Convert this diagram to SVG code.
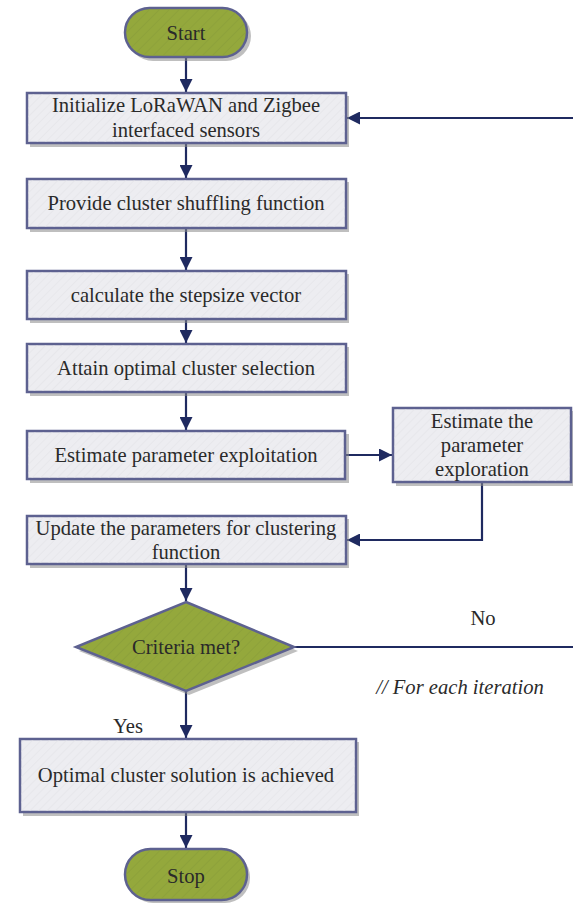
<svg xmlns="http://www.w3.org/2000/svg" width="573" height="903" viewBox="0 0 573 903">
<defs>
<style>
.box{fill:#ededf1;stroke:#5d6190;stroke-width:2.5}
.term{fill:#94a83c;stroke:#5d6190;stroke-width:2.5}
.hb{fill:url(#hatchB);stroke:none}
.hg{fill:url(#hatchG);stroke:none}
.sh{fill:#8a8a8a;opacity:0.55}
.t{font-family:'Liberation Serif','Times New Roman',serif;font-size:20.6px;fill:#2a2a2a;text-anchor:middle}
.c{fill:none;stroke:#1f2a60;stroke-width:2.2}
</style>
<pattern id="hatchB" width="6" height="6" patternUnits="userSpaceOnUse" patternTransform="rotate(45)">
<line x1="0" y1="0" x2="0" y2="6" stroke="#e2e2e6" stroke-width="1"/>
</pattern>
<pattern id="hatchG" width="7" height="7" patternUnits="userSpaceOnUse" patternTransform="rotate(45)">
<line x1="0" y1="0" x2="0" y2="7" stroke="#8a9d3a" stroke-width="1.3"/>
</pattern>
<marker id="a" viewBox="0 0 12 12" refX="12" refY="6" markerWidth="13" markerHeight="13" markerUnits="userSpaceOnUse" orient="auto">
<path d="M0,0 L12,6 L0,12 z" fill="#1f2a60"/>
</marker>
</defs>

<g id="connectors">
<line class="c" x1="186" y1="57" x2="186" y2="92" marker-end="url(#a)"/>
<line class="c" x1="186" y1="143" x2="186" y2="178" marker-end="url(#a)"/>
<line class="c" x1="186" y1="228" x2="186" y2="270" marker-end="url(#a)"/>
<line class="c" x1="186" y1="319" x2="186" y2="343" marker-end="url(#a)"/>
<line class="c" x1="186" y1="392" x2="186" y2="430" marker-end="url(#a)"/>
<line class="c" x1="345" y1="455" x2="392" y2="455" marker-end="url(#a)"/>
<polyline class="c" points="482,482 482,540 347,540" marker-end="url(#a)"/>
<line class="c" x1="186" y1="564" x2="186" y2="601" marker-end="url(#a)"/>
<line class="c" x1="294" y1="647" x2="573" y2="647"/>
<line class="c" x1="573" y1="118" x2="347" y2="118" marker-end="url(#a)"/>
<line class="c" x1="186" y1="691" x2="186" y2="738" marker-end="url(#a)"/>
<line class="c" x1="186" y1="812" x2="186" y2="848" marker-end="url(#a)"/>
<text class="t" x="483" y="625">No</text>
<text class="t" x="128" y="733">Yes</text>
<text class="t" x="460" y="694" font-style="italic">// For each iteration</text>
</g>

<g id="start">
<rect class="sh" x="128" y="11" width="123" height="50" rx="25"/>
<rect class="term" x="125" y="8" width="122" height="49" rx="24.5"/>
<rect class="hg" x="126" y="9" width="120" height="47" rx="23.5"/>
<text class="t" x="186" y="40">Start</text>
</g>

<g id="init">
<rect class="sh" x="30" y="96" width="319" height="51"/>
<rect class="box" x="27" y="93" width="319" height="50"/>
<rect class="hb" x="28" y="94" width="317" height="48"/>
<text class="t" x="186" y="112">Initialize LoRaWAN and Zigbee</text>
<text class="t" x="186" y="137">interfaced sensors</text>
</g>

<g id="shuffle">
<rect class="sh" x="30" y="182" width="319" height="50"/>
<rect class="box" x="27" y="179" width="319" height="49"/>
<rect class="hb" x="28" y="180" width="317" height="47"/>
<text class="t" x="186" y="210">Provide cluster shuffling function</text>
</g>

<g id="stepsize">
<rect class="sh" x="30" y="274" width="319" height="49"/>
<rect class="box" x="27" y="271" width="319" height="48"/>
<rect class="hb" x="28" y="272" width="317" height="46"/>
<text class="t" x="186" y="302">calculate the stepsize vector</text>
</g>

<g id="attain">
<rect class="sh" x="30" y="347" width="319" height="49"/>
<rect class="box" x="27" y="344" width="319" height="48"/>
<rect class="hb" x="28" y="345" width="317" height="46"/>
<text class="t" x="186" y="375">Attain optimal cluster selection</text>
</g>

<g id="exploit">
<rect class="sh" x="30" y="434" width="319" height="49"/>
<rect class="box" x="27" y="431" width="318" height="48"/>
<rect class="hb" x="28" y="432" width="316" height="46"/>
<text class="t" x="186" y="462">Estimate parameter exploitation</text>
</g>

<g id="explore">
<rect class="sh" x="396" y="411" width="178" height="75"/>
<rect class="box" x="393" y="408" width="178" height="74"/>
<rect class="hb" x="394" y="409" width="176" height="72"/>
<text class="t" x="482" y="428">Estimate the</text>
<text class="t" x="482" y="452">parameter</text>
<text class="t" x="482" y="476">exploration</text>
</g>

<g id="update">
<rect class="sh" x="30" y="519" width="319" height="49"/>
<rect class="box" x="27" y="516" width="319" height="48"/>
<rect class="hb" x="28" y="517" width="317" height="46"/>
<text class="t" x="186" y="535">Update the parameters for clustering</text>
<text class="t" x="186" y="559">function</text>
</g>

<g id="criteria">
<polygon class="sh" points="189,606 298,651 189,695 79,651"/>
<polygon class="term" points="186,602 294,647 186,691 76,647"/>
<polygon class="hg" points="186,604 290,647 186,689 80,647"/>
<text class="t" x="186" y="654">Criteria met?</text>
</g>

<g id="optimal">
<rect class="sh" x="23" y="742" width="336" height="74"/>
<rect class="box" x="20" y="739" width="336" height="73"/>
<rect class="hb" x="21" y="740" width="334" height="71"/>
<text class="t" x="186" y="782">Optimal cluster solution is achieved</text>
</g>

<g id="stop">
<rect class="sh" x="128" y="852" width="122" height="51" rx="25"/>
<rect class="term" x="125" y="849" width="122" height="51" rx="25.5"/>
<rect class="hg" x="126" y="850" width="120" height="49" rx="24.5"/>
<text class="t" x="186" y="883">Stop</text>
</g>
</svg>
